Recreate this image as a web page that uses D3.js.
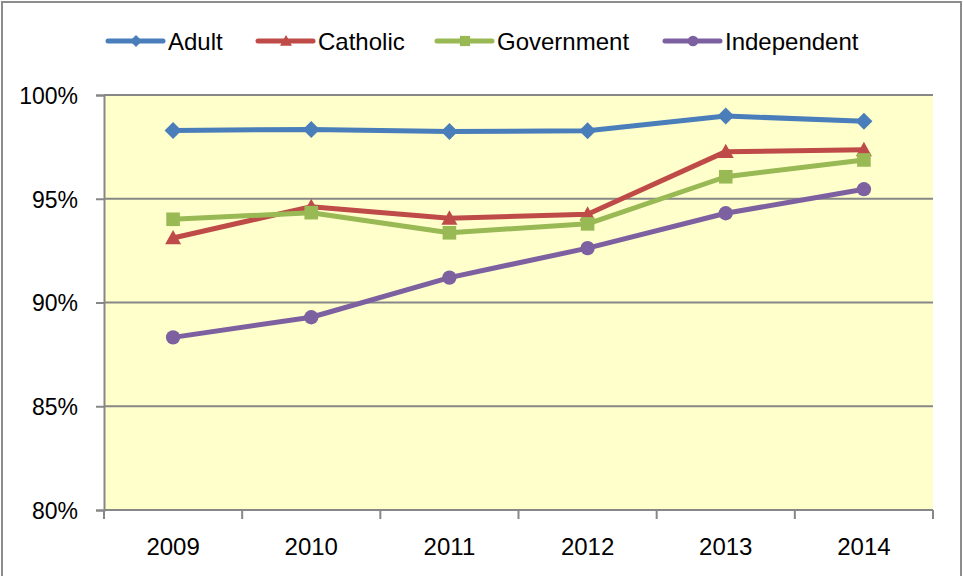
<!DOCTYPE html>
<html>
<head>
<meta charset="utf-8">
<script src="https://cdn.jsdelivr.net/npm/d3@7/dist/d3.min.js"></script>
<style>
html,body{margin:0;padding:0;background:#fff;}
svg{display:block;}
text{font-family:"Liberation Sans",Arial,sans-serif;fill:#000;}
</style>
</head>
<body>
<svg id="chart" width="963" height="576"></svg>
<script>
const years = ["2009","2010","2011","2012","2013","2014"];
const seriesNames = ["Adult","Catholic","Government","Independent"];
const adult = [98.29, 98.34, 98.24, 98.28, 98.99, 98.73];
const catholic = [93.11, 94.62, 94.06, 94.25, 97.27, 97.36];
const government = [94.01, 94.33, 93.36, 93.79, 96.06, 96.87];
const independent = [88.32, 89.29, 91.20, 92.62, 94.30, 95.46];
const yTicks = [80, 85, 90, 95, 100];
const colors = ["#4A7EBB", "#BE4B48", "#98B954", "#7D60A0"];
const markers = ["diamond", "triangle", "square", "circle"];

const series = [adult, catholic, government, independent].map((v, i) => ({
  name: seriesNames[i], values: v, color: colors[i], marker: markers[i]
}));

const svg = d3.select("#chart");
const W = 963, H = 576;
const plot = {left: 104, right: 933, top: 95, bottom: 510};

// outer frame
svg.append("rect").attr("x", 2).attr("y", 2).attr("width", 959).attr("height", 580)
  .attr("fill", "#fff").attr("stroke", "#8c8c8c").attr("stroke-width", 2);

const x = d3.scaleBand().domain(years).range([plot.left, plot.right]).padding(0);
const y = d3.scaleLinear().domain([80, 100]).range([plot.bottom, plot.top]);

// plot background
svg.append("rect").attr("x", plot.left).attr("y", plot.top)
  .attr("width", plot.right - plot.left).attr("height", plot.bottom - plot.top)
  .attr("fill", "#FFFFCC");

// gridlines
svg.append("g").selectAll("line").data(yTicks.filter(t => t > 80)).join("line")
  .attr("x1", plot.left).attr("x2", plot.right)
  .attr("y1", d => y(d)).attr("y2", d => y(d))
  .attr("stroke", "#878787").attr("stroke-width", 2);

// y axis
const yAxis = d3.axisLeft(y).tickValues(yTicks).tickSize(8).tickPadding(18)
  .tickFormat(d => d + "%");
const gy = svg.append("g").attr("transform", `translate(${plot.left},0)`).call(yAxis);
gy.select(".domain").attr("stroke", "#878787").attr("stroke-width", 2);
gy.selectAll(".tick line").attr("stroke", "#878787").attr("stroke-width", 2);
gy.selectAll(".tick text").style("font-size", "23px").style("font-family", '"Liberation Sans",Arial,sans-serif').attr("fill", "#000").attr("dy", "0.36em");

// x axis
const xAxis = d3.axisBottom(x).tickSize(0).tickPadding(28);
const gx = svg.append("g").attr("transform", `translate(0,${plot.bottom})`).call(xAxis);
gx.select(".domain").remove();
gx.append("line").attr("x1", plot.left).attr("x2", plot.right).attr("y1", 0).attr("y2", 0)
  .attr("stroke", "#878787").attr("stroke-width", 2);
const bounds = years.map(yv => x(yv)).concat([plot.right]);
gx.selectAll(".bt").data(bounds).join("line").attr("class", "bt")
  .attr("x1", d => d).attr("x2", d => d).attr("y1", 0).attr("y2", 9)
  .attr("stroke", "#878787").attr("stroke-width", 2);
gx.selectAll(".tick text").style("font-size", "24px").style("font-family", '"Liberation Sans",Arial,sans-serif').attr("fill", "#000");

const cx = d => x(d) + x.bandwidth() / 2;

function markerPath(type, s) {
  // s: overall size in px
  const h = s / 2;
  if (type === "diamond") return `M0,${-h}L${h},0L0,${h}L${-h},0Z`;
  if (type === "triangle") return `M0,${-h}L${h},${h * 0.8}L${-h},${h * 0.8}Z`;
  if (type === "square") return `M${-h * 0.85},${-h * 0.85}H${h * 0.85}V${h * 0.85}H${-h * 0.85}Z`;
  return d3.symbol(d3.symbolCircle, Math.PI * h * h * 0.8)();
}

const line = d3.line().x((d, i) => cx(years[i])).y(d => y(d));

series.forEach(s => {
  const g = svg.append("g");
  g.append("path").attr("d", line(s.values)).attr("fill", "none")
    .attr("stroke", s.color).attr("stroke-width", 5).attr("stroke-linejoin", "round");
  g.selectAll("path.m").data(s.values).join("path").attr("class", "m")
    .attr("transform", (d, i) => `translate(${cx(years[i])},${y(d)})`)
    .attr("d", markerPath(s.marker, s.marker === "diamond" ? 17 : 16))
    .attr("fill", s.color);
});

// legend
const legendX = [108, 258, 437, 665];
const legendY = 41;
series.forEach((s, i) => {
  const g = svg.append("g").attr("transform", `translate(${legendX[i]},${legendY})`);
  g.append("line").attr("x1", 0).attr("x2", 55).attr("y1", 0).attr("y2", 0)
    .attr("stroke", s.color).attr("stroke-width", 5).attr("stroke-linecap", "round");
  g.append("path").attr("transform", "translate(28,0)")
    .attr("d", markerPath(s.marker, 12)).attr("fill", s.color);
  g.append("text").attr("x", 60).attr("y", 0).attr("dy", "0.36em")
    .style("font-size", "24px").text(s.name);
});
</script>
</body>
</html>
